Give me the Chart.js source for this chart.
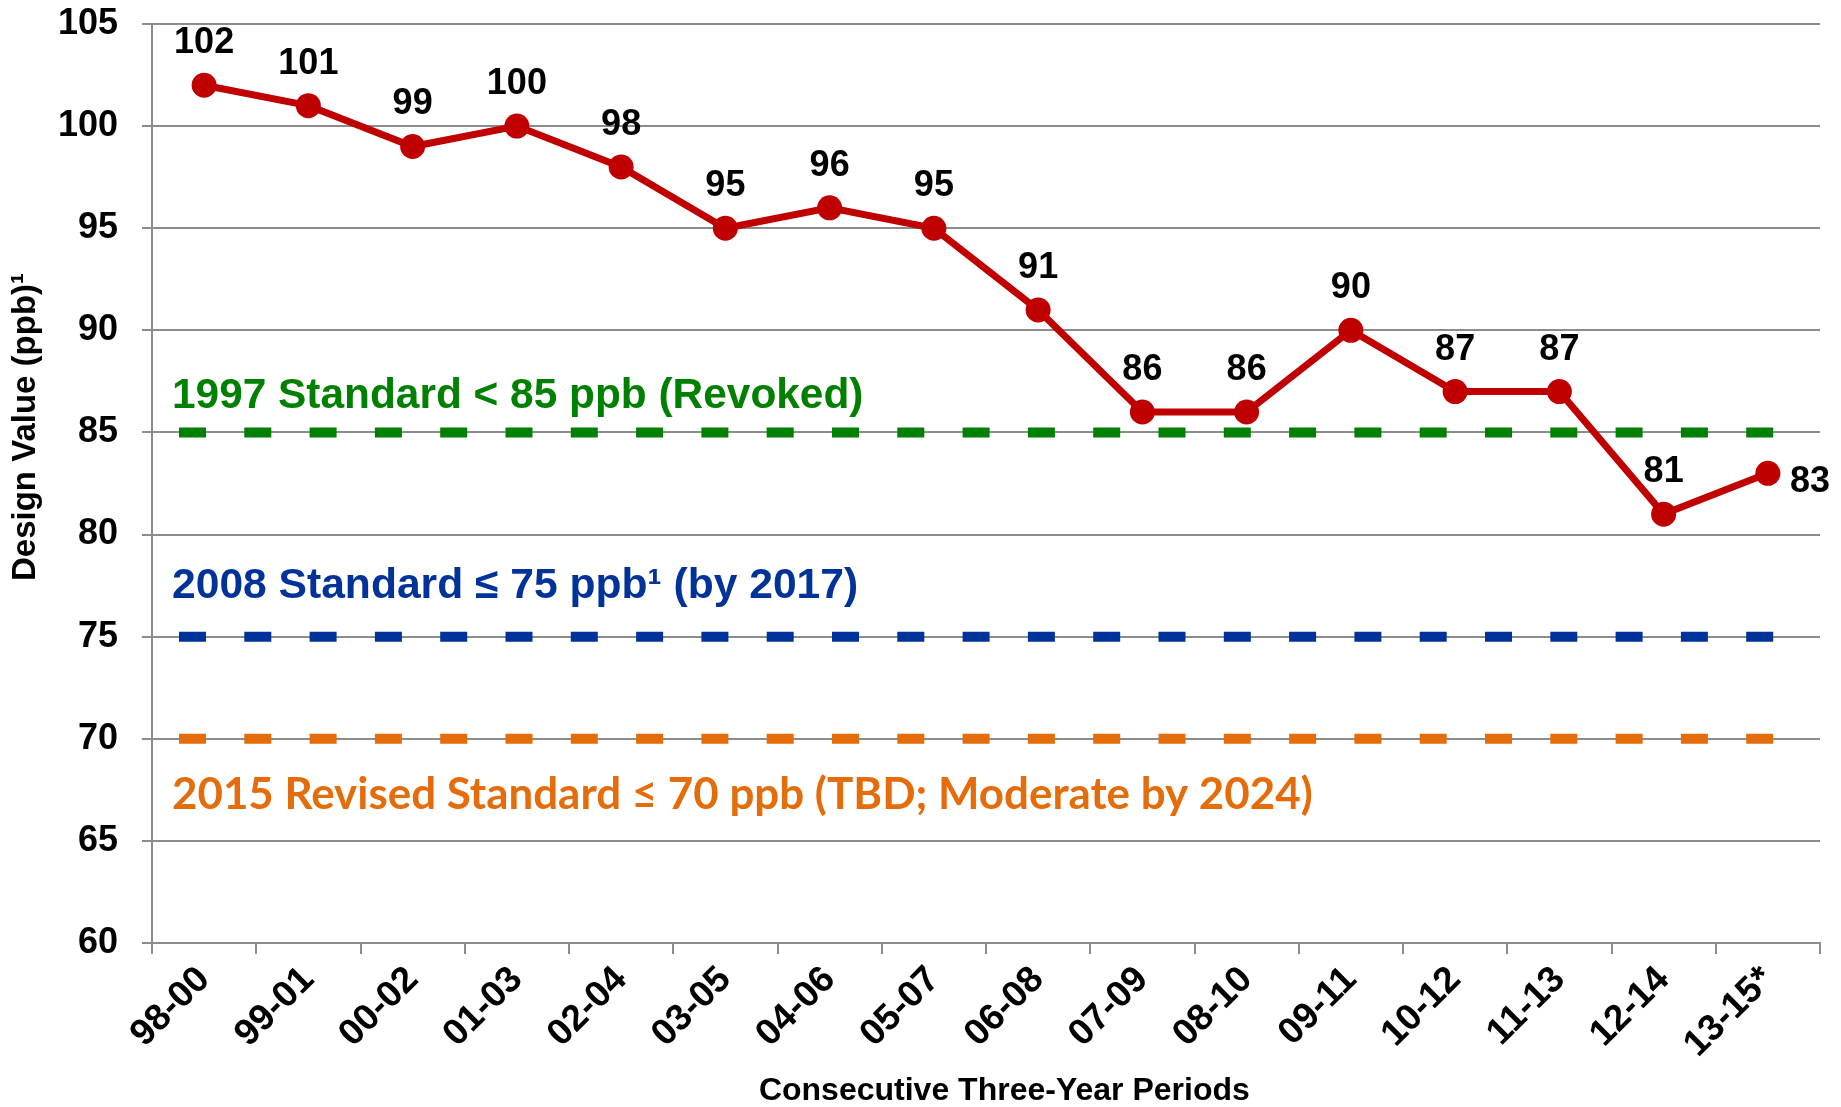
<!DOCTYPE html>
<html>
<head>
<meta charset="utf-8">
<script src="https://cdn.jsdelivr.net/npm/chart.js@4"></script>
<style>
	html, body { margin: 0; padding: 0; background: #fff; }
	canvas { display: block; }
</style>
</head>
<body>
<canvas id="ozone" width="1841" height="1107"></canvas>
<script>
// data
const periods = ["98-00", "99-01", "00-02", "01-03", "02-04", "03-05", "04-06", "05-07",
	"06-08", "07-09", "08-10", "09-11", "10-12", "11-13", "12-14", "13-15*"];
const designValues = [102, 101, 99, 100, 98, 95, 96, 95, 91, 86, 86, 90, 87, 87, 81, 83];
const standardValues = [85, 75, 70];
const standardLabels = [
	"1997 Standard < 85 ppb (Revoked)",
	"2008 Standard \u2264 75 ppb\u00b9 (by 2017)",
	"2015 Revised Standard \u2264 70 ppb (TBD; Moderate by 2024)"
];
const yMin = 60, yMax = 105, yStep = 5;

const fontFamily = "'Liberation Sans', Arial, sans-serif";
const gridColor = "#8c8c8c";

// dashed standard lines + their captions
const standardLines = {
	id: "standardLines",
	beforeDatasetsDraw(chart, args, opts) {
		const { ctx, chartArea: { left, right }, scales: { y } } = chart;
		ctx.save();
		standardValues.forEach((v, i) => {
			const py = y.getPixelForValue(v);
			ctx.strokeStyle = opts.colors[i];
			ctx.lineWidth = 10;
			ctx.setLineDash([27, 38.3]);
			ctx.beginPath();
			ctx.moveTo(left + 27, py);
			ctx.lineTo(right - 46, py);
			ctx.stroke();

			ctx.setLineDash([]);
			ctx.fillStyle = opts.colors[i];
			ctx.textAlign = "left";
			ctx.textBaseline = "middle";
			// caption fonts differ (last one is a Calibri-like face), fit to its width
			ctx.font = "bold 40px " + opts.fonts[i];
			const size = 40 * opts.widths[i] / ctx.measureText(standardLabels[i]).width;
			ctx.font = "bold " + size.toFixed(1) + "px " + opts.fonts[i];
			ctx.fillText(standardLabels[i], left + 20, y.getPixelForValue(opts.captionAt[i]));
		});
		ctx.restore();
	}
};

// value labels, axis titles
const valueLabels = {
	id: "valueLabels",
	afterDatasetsDraw(chart) {
		const { ctx, chartArea: { top, height, left, width } } = chart;
		const pts = chart.getDatasetMeta(0).data;
		ctx.save();
		ctx.font = "bold 36px " + fontFamily;
		ctx.fillStyle = "#000";
		ctx.textBaseline = "middle";
		pts.forEach((p, i) => {
			if (i === pts.length - 1) {
				ctx.textAlign = "left";
				ctx.fillText(designValues[i], p.x + 22, p.y + 9);
			} else {
				ctx.textAlign = "center";
				ctx.fillText(designValues[i], p.x, p.y - 42);
			}
		});

		ctx.textAlign = "center";
		ctx.font = "bold 32px " + fontFamily;
		ctx.fillText("Consecutive Three-Year Periods", left + width * 0.511, 1091);

		ctx.translate(26, top + height * 0.4385);
		ctx.rotate(-Math.PI / 2);
		ctx.font = "bold 33px " + fontFamily;
		ctx.fillText("Design Value (ppb)\u00b9", 0, 0);
		ctx.restore();
	}
};

Chart.defaults.color = "#000";
Chart.defaults.font.family = fontFamily;

var ctx = document.getElementById("ozone").getContext("2d");
var config = {
	type: "line",
	data: {
		labels: periods,
		datasets: [
			{
				data: designValues,
				borderColor: "#C00000",
				backgroundColor: "#C00000",
				borderWidth: 7,
				pointRadius: 12.5,
				pointHoverRadius: 12.5,
				pointBorderWidth: 0,
				tension: 0
			}
		]
	},
	options: {
		responsive: false,
		animation: false,
		layout: { padding: { top: 24, right: 21, left: 0, bottom: 0 } },
		plugins: {
			legend: { display: false },
			tooltip: { enabled: false },
			standardLines: {
				colors: ["#008000", "#003399", "#E46C0A"],
				fonts: [fontFamily, fontFamily, "Lato, 'Open Sans', sans-serif"],
				widths: [692, 687, 1142],
				captionAt: [86.75, 77.45, 67.25]
			}
		},
		scales: {
			x: {
				offset: true,
				grid: {
					offset: true,
					drawOnChartArea: false,
					color: gridColor,
					lineWidth: 2,
					tickLength: 11
				},
				border: { color: gridColor, width: 2 },
				ticks: {
					maxRotation: 45,
					minRotation: 45,
					padding: 4,
					font: { size: 37, weight: "bold" }
				},
				afterFit(scale) {
					scale.height = 164;
				}
			},
			y: {
				min: yMin,
				max: yMax,
				grid: { color: gridColor, lineWidth: 2, tickLength: 10 },
				border: { color: gridColor, width: 2 },
				ticks: {
					stepSize: yStep,
					padding: 24,
					font: { size: 36, weight: "bold" }
				},
				afterFit(scale) {
					scale.width = 152;
					scale.paddingTop = 0;
					scale.paddingBottom = 0;
				}
			}
		}
	},
	plugins: [standardLines, valueLabels]
};

var ozoneChart = new Chart(ctx, config);
</script>
</body>
</html>
